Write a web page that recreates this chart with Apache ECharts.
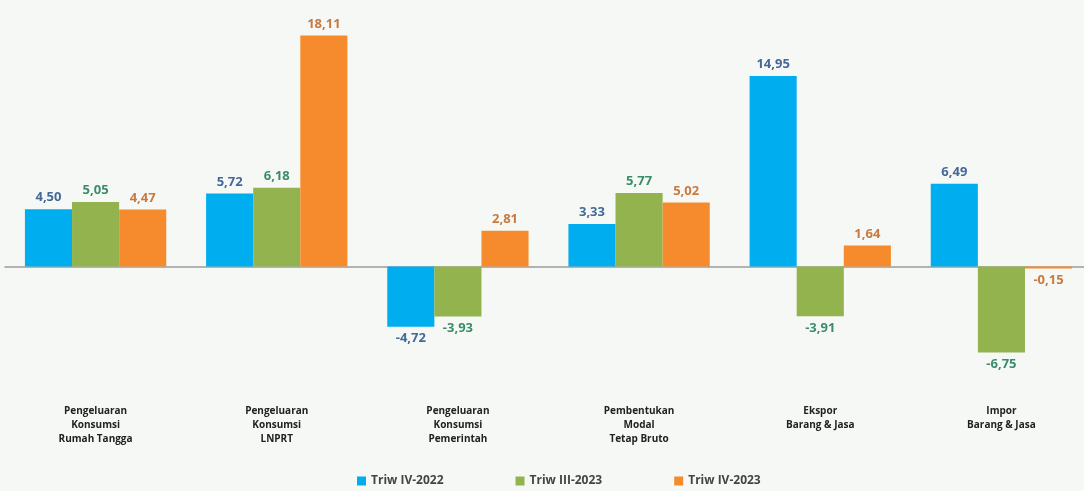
<!DOCTYPE html>
<html>
<head>
<meta charset="utf-8">
<script src="https://cdn.jsdelivr.net/npm/echarts@6/dist/echarts.min.js"></script>
<style>
html,body{margin:0;padding:0;background:#f5f8f4;overflow:hidden;}
#c{width:1100px;height:491px;}
</style>
</head>
<body>
<div id="c"></div>
<script>
const categories = [
  'Pengeluaran\nKonsumsi\nRumah Tangga',
  'Pengeluaran\nKonsumsi\nLNPRT',
  'Pengeluaran\nKonsumsi\nPemerintah',
  'Pembentukan\nModal\nTetap Bruto',
  'Ekspor\nBarang & Jasa',
  'Impor\nBarang & Jasa'
];
const seriesNames = ['Triw IV-2022', 'Triw III-2023', 'Triw IV-2023'];
const triwIV2022 = [4.50, 5.72, -4.72, 3.33, 14.95, 6.49];
const triwIII2023 = [5.05, 6.18, -3.93, 5.77, -3.91, -6.75];
const triwIV2023 = [4.47, 18.11, 2.81, 5.02, 1.64, -0.15];

const barColors = ['#00aeef', '#92b34e', '#f68b2e'];
const labelColors = ['#44689a', '#3b8d6a', '#c87a40'];
const FONT = '"Open Sans", "Noto Sans", sans-serif';

function mkSeries(name, values, idx) {
  return {
    name: name,
    type: 'bar',
    barGap: '0%',
    barCategoryGap: '22%',
    itemStyle: { color: barColors[idx] },
    data: values.map(v => ({
      value: v,
      label: { position: v < 0 ? 'bottom' : 'top' }
    })),
    label: {
      show: true,
      color: labelColors[idx],
      fontFamily: FONT,
      fontWeight: 'bold',
      fontSize: 13,
      distance: 5,
      formatter: p => p.value.toFixed(2).replace('.', ',')
    }
  };
}

const chart = echarts.init(document.getElementById('c'));
chart.setOption({
  backgroundColor: '#f5f8f4',
  animation: false,
  grid: { left: 5, top: 11.5, width: 1087, height: 382.5 },
  legend: {
    top: 470,
    left: 352,
    itemWidth: 9,
    itemHeight: 9,
    itemGap: 72,
    icon: 'rect',
    textStyle: { fontFamily: FONT, fontWeight: 'bold', fontSize: 12, color: '#444' },
    data: seriesNames
  },
  xAxis: [
    {
      type: 'category',
      data: categories,
      axisLine: { onZero: true, lineStyle: { color: '#9a9a9a', width: 1.5 } },
      axisTick: { show: false },
      axisLabel: { show: false }
    },
    {
      type: 'category',
      data: categories,
      position: 'bottom',
      axisLine: { show: false, onZero: false },
      axisTick: { show: false },
      axisLabel: {
        margin: 10,
        fontFamily: FONT,
        fontWeight: 'bold',
        fontSize: 10,
        lineHeight: 14,
        color: '#222'
      }
    }
  ],
  yAxis: {
    type: 'value',
    min: -10,
    max: 20,
    show: false,
    splitLine: { show: false }
  },
  series: [
    mkSeries(seriesNames[0], triwIV2022, 0),
    mkSeries(seriesNames[1], triwIII2023, 1),
    mkSeries(seriesNames[2], triwIV2023, 2)
  ]
});
</script>
</body>
</html>
